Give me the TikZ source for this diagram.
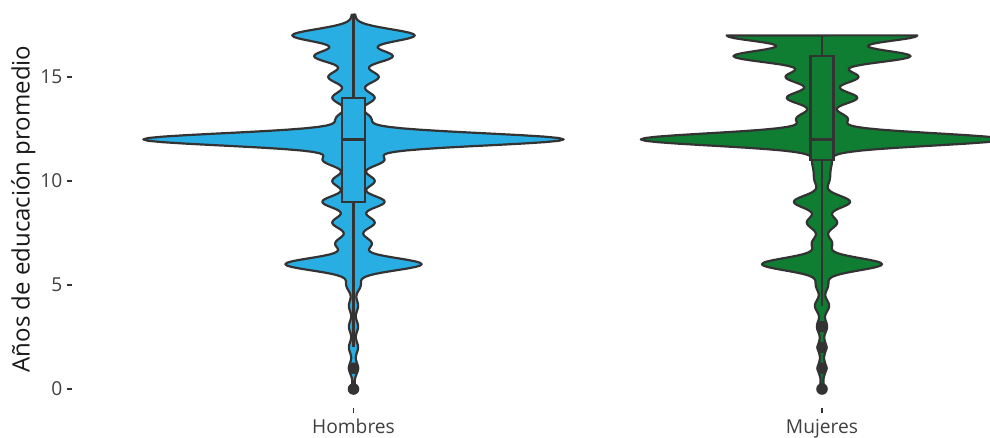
\documentclass[tikz,border=0pt]{standalone}
\usepackage{fontspec}
\setmainfont{Open Sans}

\definecolor{hblue}{HTML}{29AEE3}
\definecolor{mgreen}{HTML}{0F7E33}
\definecolor{outl}{HTML}{333333}
\definecolor{labgray}{HTML}{404040}

\begin{document}
\begin{tikzpicture}[x=1pt, y=1pt,
    declare function={
        g(\vv,\cc)=exp(-min((\vv-\cc)*(\vv-\cc)/0.18,9));
        hom(\vv)=1.5*g(\vv,0)+4.5*g(\vv,1)+4.5*g(\vv,2)+4.5*g(\vv,3)+4.5*g(\vv,4)+7*g(\vv,5)+68*g(\vv,6)+18*g(\vv,7)+21*g(\vv,8)+31*g(\vv,9)+21*g(\vv,10)+30*g(\vv,11)+210*g(\vv,12)+17*g(\vv,13)+21*g(\vv,14)+25*g(\vv,15)+39*g(\vv,16)+61*g(\vv,17)+1.5*g(\vv,18);
        muj(\vv)=2*g(\vv,0)+4*g(\vv,1)+4*g(\vv,2)+5*g(\vv,3)+7*g(\vv,4)+6*g(\vv,5)+60*g(\vv,6)+10*g(\vv,7)+15*g(\vv,8)+28*g(\vv,9)+6*g(\vv,10)+5*g(\vv,10.5)+8*g(\vv,11)+181*g(\vv,12)+25*g(\vv,13)+35*g(\vv,14)+36*g(\vv,15)+88*g(\vv,16)+95*g(\vv,17);
    },
    violin/.style={draw=outl, line width=2.2pt, line join=round},
    boxbar/.style={draw=outl, line width=2.2pt},
    median/.style={draw=outl, line width=3.6pt},
    outlier/.style={fill=outl},
    tickmark/.style={draw=outl, line width=1.8pt},
    ticklab/.style={text=labgray, inner sep=0pt, font=\fontsize{19.2}{22}\selectfont},
    axtitle/.style={inner sep=0pt, text=black!90, font=\fontsize{24}{28}\selectfont}]

    \useasboundingbox (0,0) rectangle (990,437);
    \clip (0,0) rectangle (990,437);

    % Hombres
    \begin{scope}[shift={(353.5pt,48pt)}, y=20.8pt]
        \filldraw[violin, fill=hblue] plot[domain=18:0, samples=271] ({hom(\x)}, \x)
            -- plot[domain=0:18, samples=271] ({-hom(\x)}, \x) -- cycle;
        \draw[boxbar] (0,2) -- (0,9) (0,14) -- (0,18);
        \filldraw[boxbar, fill=hblue] (-11.5,9) rectangle (11.5,14);
        \draw[median] (-11.5,12) -- (11.5,12);
        \foreach \o in {0,1}
            \fill[outlier] (0,\o) circle (5.8pt);
    \end{scope}

    % Mujeres
    \begin{scope}[shift={(822pt,48pt)}, y=20.8pt]
        \filldraw[violin, fill=mgreen] plot[domain=17:0, samples=256] ({muj(\x)}, \x)
            -- plot[domain=0:17, samples=256] ({-muj(\x)}, \x) -- cycle;
        \draw[boxbar] (0,4) -- (0,11) (0,16) -- (0,17);
        \filldraw[boxbar, fill=mgreen] (-11.5,11) rectangle (11.5,16);
        \draw[median] (-11.5,12) -- (11.5,12);
        \foreach \o in {0,1,2,3}
            \fill[outlier] (0,\o) circle (5.8pt);
    \end{scope}

    % y axis
    \foreach \val in {0,5,10,15} {
        \draw[tickmark] (66.5,{48+20.8*\val}) -- (71.5,{48+20.8*\val});
        \node[ticklab, anchor=east] (ylab\val) at (62.5,{48+20.8*\val}) {\val};
    }
    \node[axtitle, rotate=90, anchor=base] (ytitle) at (29.5,228) {Años de educación promedio};

    % x axis
    \draw[tickmark] (353.5,28.7) -- (353.5,23.7);
    \draw[tickmark] (822,28.7) -- (822,23.7);
    \node[ticklab, anchor=base] (hombres) at (353.5,3.7) {Hombres};
    \node[ticklab, anchor=base] (mujeres) at (822,3.7) {Mujeres};

\end{tikzpicture}
\end{document}
